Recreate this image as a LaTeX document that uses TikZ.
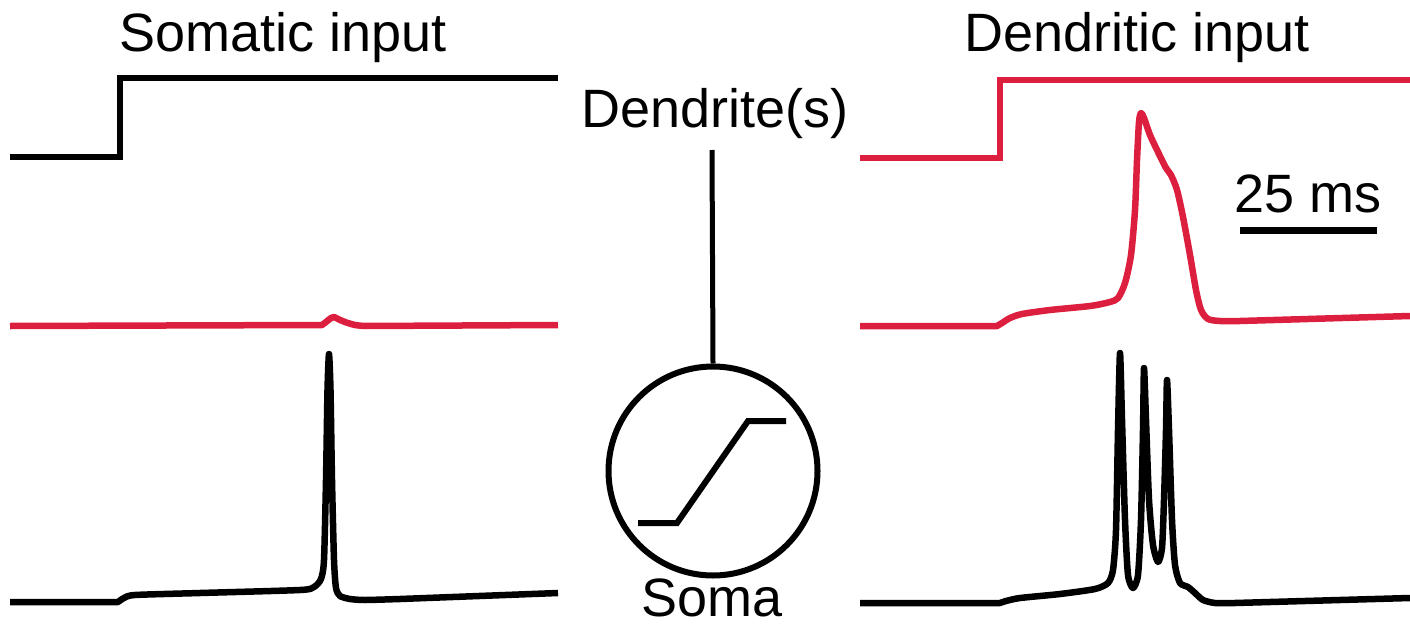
\documentclass[tikz,border=0pt]{standalone}
\usepackage{fontspec}
\setmainfont{Liberation Sans}
\definecolor{dendred}{RGB}{221,31,63}
\begin{document}
\begin{tikzpicture}[x=1pt,y=-1pt,
  trace/.style={line width=6.5pt,line join=round,line cap=butt},
  label/.style={inner sep=0pt,anchor=base,font=\fontsize{54}{60}\selectfont},
  stepline/.style={trace,line join=miter}]
\useasboundingbox (0,0) rectangle (1410,626);

% titles
\node[label] (somtitle) at (283,52) {Somatic input};
\node[label] (dentitle) at (1137,52) {Dendritic input};

% ---- somatic input column ----
\draw[stepline] (10,157) -- (120,157) -- (120,78) -- (558,78);
\draw[trace,dendred] (10,326) -- (320,325)
  -- plot[smooth,tension=0.5] coordinates {(322,325) (326,322) (331,318) (334,317) (338,319) (345,322) (355,325) (365,326)}
  -- (558,325);
\draw[trace] (10,602) -- (118,602)
  -- plot[smooth,tension=0.4] coordinates {(118,602) (124,598) (135,595) (200,593) (300,590) (314,587) (321,579) (324,560) (326,480) (327.5,390) (329,354) (330.5,390) (332,480) (334,560) (336,588) (340,596) (350,599) (365,600) (400,599)}
  -- (558,593);

% ---- dendritic input column ----
\draw[stepline,dendred] (860,158) -- (1000,158) -- (1000,80) -- (1410,80);
\draw[trace,dendred] (860,326) -- (997,326)
  -- plot[smooth,tension=0.45] coordinates {(997,326) (1002,323) (1010,318) (1022,314) (1050,310) (1090,306) (1110,302) (1118,298) (1125,283) (1131,255) (1135,210) (1137,160) (1139,122) (1141,113) (1144,118) (1150,135) (1158,152) (1166,168) (1171,175) (1177,190) (1183,217) (1190,255) (1196,290) (1201,310) (1208,319) (1220,321) (1240,321)}
  -- (1410,316);
\draw[trace] (860,603) -- (1000,603)
  -- plot[smooth,tension=0.4] coordinates {(1000,603) (1006,601) (1020,598) (1060,594) (1095,589) (1108,583) (1113,570) (1116,530) (1118,430) (1120,353) (1122,420) (1125,520) (1128,575) (1133,588) (1138,575) (1141,520) (1143,430) (1144,368) (1146,420) (1149,500) (1153,545) (1158,562) (1162,548) (1164,500) (1166,430) (1167,380) (1169,430) (1172,520) (1175,565) (1180,583) (1188,587) (1195,593) (1203,600) (1215,603) (1235,603)}
  -- (1410,598);

% scale bar
\node[label] (sbtext) at (1308,212) {25 ms};
\coordinate (sbL) at (1240,230.5);
\coordinate (sbR) at (1377,230.5);
\draw[line width=7pt] (sbL) -- (sbR);

% ---- neuron schematic ----
\node[label] (dendlabel) at (715,127) {Dendrite(s)};
\node[draw,circle,line width=6pt,minimum size=209pt,inner sep=0pt] (soma) at (713,471) {};
\coordinate (dendtop) at (712,150);
\draw[line width=5pt] (dendtop) -- (soma.north);
\draw[line width=6pt,line join=miter] (638,523) -- (677,523) -- (748,421) -- (786,421);
\node[label] (somalabel) at (712,616) {Soma};
\end{tikzpicture}
\end{document}
